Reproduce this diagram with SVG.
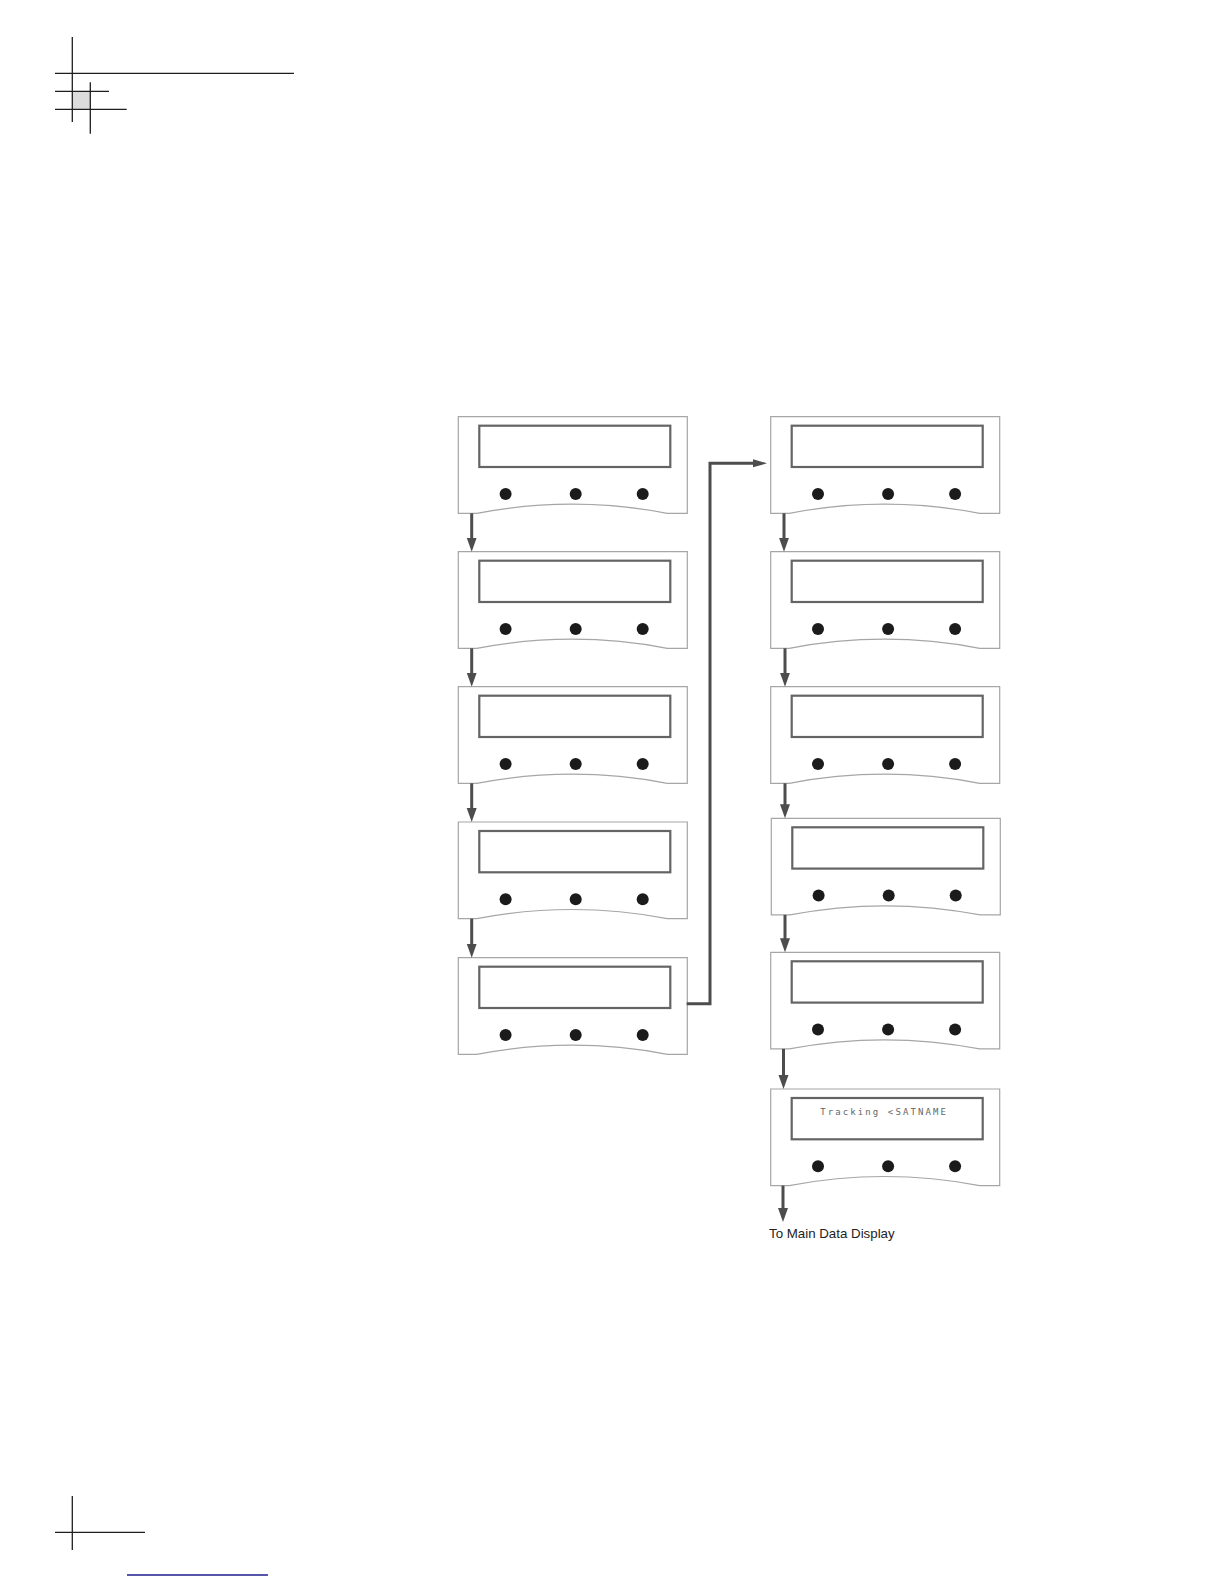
<svg xmlns="http://www.w3.org/2000/svg" xmlns:xlink="http://www.w3.org/1999/xlink" width="1224" height="1584" viewBox="0 0 1224 1584">
  <style>
    .crop { stroke: #1e1e1e; stroke-width: 1.3; fill: none; }
    .body { fill: #ffffff; stroke: #a6a6a6; stroke-width: 1.2; }
    .lcd { fill: #ffffff; stroke: #646464; stroke-width: 2.2; }
    .btn { fill: #1b1b1b; }
    .conn { stroke: #4d4d4d; stroke-width: 3; fill: none; }
    .lcdtext { font-family: "DejaVu Sans Mono", "Liberation Mono", monospace; font-size: 9px; letter-spacing: 2.1px; fill: #666666; }
    .label { font-family: "Liberation Sans", Arial, sans-serif; font-size: 13.3px; fill: #222222; }
  </style>
  <defs>
    <marker id="arrow" markerUnits="userSpaceOnUse" markerWidth="15" markerHeight="11" refX="6" refY="5" orient="auto">
      <path d="M0,0 L14,5 L0,10 Z" fill="#4d4d4d"/>
    </marker>
    <marker id="arrowSmall" markerUnits="userSpaceOnUse" markerWidth="15" markerHeight="9" refX="6" refY="4" orient="auto">
      <path d="M0,0 L14,4 L0,8 Z" fill="#4d4d4d"/>
    </marker>
    <g id="device">
      <path class="body" d="M0,0 H229 V96.6 H209 Q113.75,78.4 18.5,96.6 H0 Z"/>
      <rect class="lcd" x="21" y="9" width="191" height="41.3"/>
      <circle class="btn" cx="47.3" cy="77.3" r="6"/>
      <circle class="btn" cx="117.4" cy="77.3" r="6"/>
      <circle class="btn" cx="184.4" cy="77.3" r="6"/>
    </g>
  </defs>

  <rect width="1224" height="1584" fill="#ffffff"/>

  <!-- crop marks -->
  <g id="cropmarks">
    <rect x="72.3" y="91.3" width="18" height="18" fill="#dcdcdc"/>
    <line class="crop" x1="72.3" y1="37" x2="72.3" y2="122"/>
    <line class="crop" x1="55" y1="73.3" x2="294" y2="73.3"/>
    <line class="crop" x1="55" y1="91.3" x2="109" y2="91.3"/>
    <line class="crop" x1="55" y1="109.3" x2="126.7" y2="109.3"/>
    <line class="crop" x1="90.3" y1="82.3" x2="90.3" y2="133.7"/>
    <line class="crop" x1="72.3" y1="1496" x2="72.3" y2="1550"/>
    <line class="crop" x1="55" y1="1532.3" x2="145" y2="1532.3"/>
    <line x1="127" y1="1575" x2="268" y2="1575" stroke="#1c1c8c" stroke-width="1.4"/>
  </g>

  <!-- left column -->
  <g id="panel-L1" transform="translate(458.3,416.7)"><use xlink:href="#device"/></g>
  <g id="panel-L2" transform="translate(458.3,551.7)"><use xlink:href="#device"/></g>
  <g id="panel-L3" transform="translate(458.3,686.7)"><use xlink:href="#device"/></g>
  <g id="panel-L4" transform="translate(458.3,822)"><use xlink:href="#device"/></g>
  <g id="panel-L5" transform="translate(458.3,957.7)"><use xlink:href="#device"/></g>

  <!-- right column -->
  <g id="panel-R1" transform="translate(770.7,416.7)"><use xlink:href="#device"/></g>
  <g id="panel-R2" transform="translate(770.7,551.7)"><use xlink:href="#device"/></g>
  <g id="panel-R3" transform="translate(770.7,686.7)"><use xlink:href="#device"/></g>
  <g id="panel-R4" transform="translate(771.3,818.3)"><use xlink:href="#device"/></g>
  <g id="panel-R5" transform="translate(770.7,952.3)"><use xlink:href="#device"/></g>
  <g id="panel-R6" transform="translate(770.7,1089)">
    <use xlink:href="#device"/>
    <text class="lcdtext" x="49.5" y="25.5">Tracking &lt;SATNAME</text>
  </g>

  <!-- connectors -->
  <g id="connectors">
    <line class="conn" x1="471.7" y1="513.3" x2="471.7" y2="543.7" marker-end="url(#arrow)"/>
    <line class="conn" x1="471.7" y1="648.3" x2="471.7" y2="678.7" marker-end="url(#arrow)"/>
    <line class="conn" x1="471.7" y1="783.3" x2="471.7" y2="814" marker-end="url(#arrow)"/>
    <line class="conn" x1="471.7" y1="918.6" x2="471.7" y2="949.7" marker-end="url(#arrow)"/>
    <path class="conn" d="M686.7,1003.8 H710 V463.3 H759" marker-end="url(#arrowSmall)"/>
    <line class="conn" x1="784" y1="513.3" x2="784" y2="543.7" marker-end="url(#arrow)"/>
    <line class="conn" x1="785" y1="648.3" x2="785" y2="678.7" marker-end="url(#arrow)"/>
    <line class="conn" x1="785" y1="783.3" x2="785" y2="810.3" marker-end="url(#arrow)"/>
    <line class="conn" x1="785" y1="914.9" x2="785" y2="944.3" marker-end="url(#arrow)"/>
    <line class="conn" x1="783.5" y1="1048.9" x2="783.5" y2="1081" marker-end="url(#arrow)"/>
    <line class="conn" x1="783" y1="1185.6" x2="783" y2="1214" marker-end="url(#arrow)"/>
  </g>

  <text id="label-main" class="label" x="769" y="1237.5">To Main Data Display</text>
</svg>
